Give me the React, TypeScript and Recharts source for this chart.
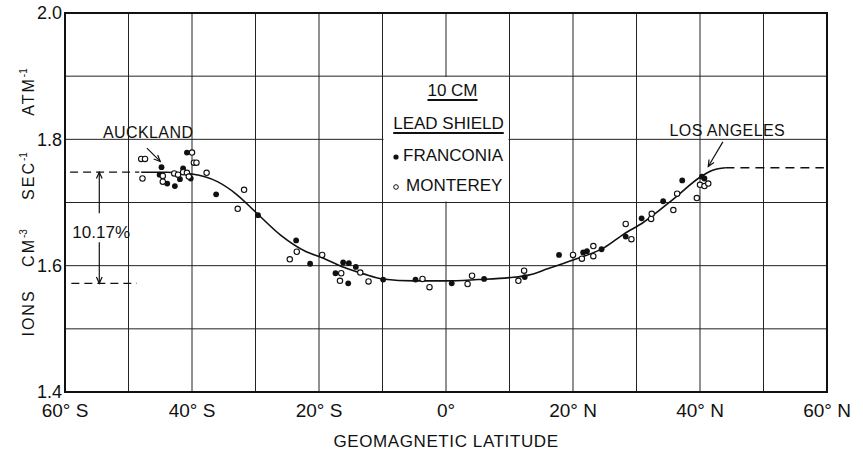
import React from "react";
import {
  ComposedChart,
  Line,
  Scatter,
  XAxis,
  YAxis,
  CartesianGrid,
  ReferenceArea,
  ReferenceLine,
  ReferenceDot,
  Legend,
} from "recharts";

const FONT = '"Liberation Sans", Arial, sans-serif';
const INK = "#111";

// axis ticks (degrees geomagnetic latitude, ions cm-3 sec-1 atm-1)
const latTicks = [-60, -50, -40, -30, -20, -10, 0, 10, 20, 30, 40, 50, 60];
const latLabels: Record<string, string> = {
  "-60": "60° S",
  "-40": "40° S",
  "-20": "20° S",
  "0": "0°",
  "20": "20° N",
  "40": "40° N",
  "60": "60° N",
};
const ionTicks = [1.4, 1.5, 1.6, 1.7, 1.8, 1.9, 2.0];
const ionLabels = ["1.4", "", "1.6", "", "1.8", "", "2.0"];

// measured points [latitude, ionization]
const franconiaRows = [
  [-45.1, 1.744], [-44.8, 1.756], [-43.9, 1.73], [-42.7, 1.726], [-41.9, 1.737],
  [-41.4, 1.754], [-40.8, 1.779], [-40.2, 1.738], [-36.2, 1.713], [-29.6, 1.68],
  [-23.6, 1.64], [-21.4, 1.603], [-17.4, 1.588], [-16.2, 1.605], [-15.3, 1.604],
  [-15.4, 1.572], [-14.2, 1.598], [-9.9, 1.578], [-4.8, 1.578], [0.9, 1.572],
  [6.0, 1.579], [12.4, 1.582], [17.8, 1.617], [21.6, 1.621], [22.2, 1.623],
  [24.5, 1.626], [28.3, 1.646], [30.8, 1.675], [34.2, 1.702], [37.2, 1.735],
  [40.3, 1.741], [40.7, 1.738],
];
const montereyRows = [
  [-48.0, 1.769], [-47.4, 1.769], [-47.8, 1.738], [-44.6, 1.742], [-44.6, 1.733],
  [-42.8, 1.746], [-42.2, 1.744], [-41.4, 1.748], [-40.8, 1.747], [-40.5, 1.741],
  [-40.0, 1.779], [-39.7, 1.763], [-39.3, 1.763], [-37.7, 1.747], [-32.8, 1.69],
  [-31.8, 1.72], [-24.6, 1.61], [-23.5, 1.622], [-19.5, 1.617], [-16.5, 1.588],
  [-16.7, 1.576], [-13.5, 1.589], [-12.2, 1.575], [-3.7, 1.579], [-2.6, 1.566],
  [3.4, 1.571], [4.1, 1.584], [11.4, 1.576], [12.3, 1.592], [20.0, 1.617],
  [21.4, 1.611], [23.2, 1.631], [23.2, 1.615], [28.3, 1.666], [29.2, 1.642],
  [32.3, 1.674], [32.4, 1.682], [35.8, 1.688], [36.4, 1.714], [39.5, 1.707],
  [40.0, 1.728], [40.7, 1.726], [41.3, 1.73],
];

// smooth curve drawn through the data
const curveRows = [
  [-48, 1.748], [-44, 1.748], [-40, 1.745], [-36, 1.733], [-33, 1.713],
  [-30, 1.685], [-26, 1.648], [-22, 1.622], [-19.6, 1.613], [-16, 1.597],
  [-13, 1.587], [-10, 1.579], [-5, 1.576], [0, 1.576], [5, 1.578],
  [10, 1.581], [13, 1.585], [16, 1.595], [20, 1.609], [25, 1.629],
  [28, 1.65], [31, 1.668], [36, 1.707], [40, 1.74], [42, 1.751], [44, 1.755],
];
const plateauRows = [
  [44, 1.755],
  [59.5, 1.755],
];

// latitude effect marker
const southLevel = 1.748;
const equatorLevel = 1.572;
const effectLat = -54.6;
const effectText = "10.17%";

const stations = ["FRANCONIA", "MONTEREY"];
const legendTitle = ["10 CM", "LEAD SHIELD"];

const placeNames = [
  { text: "AUCKLAND", lat: -46.9, v: 1.802 },
  { text: "LOS ANGELES", lat: 44.3, v: 1.805 },
];
const placeArrows = [
  { from: { x: -47.1, y: 1.786 }, to: { x: -45.0, y: 1.765 } },
  { from: { x: 43.6, y: 1.796 }, to: { x: 41.3, y: 1.757 } },
];

const toPoints = (rows: number[][]) => rows.map(([lat, v]) => ({ lat, v }));
const franconia = toPoints(franconiaRows);
const monterey = toPoints(montereyRows);
const curve = toPoints(curveRows);
const plateau = toPoints(plateauRows);

const arrowShape = (props: any) => {
  const { x1, y1, x2, y2 } = props;
  const a = Math.atan2(y2 - y1, x2 - x1);
  const h = 7;
  const s = 0.42;
  const ax = x2 - h * Math.cos(a - s);
  const ay = y2 - h * Math.sin(a - s);
  const bx = x2 - h * Math.cos(a + s);
  const by = y2 - h * Math.sin(a + s);
  return (
    <g>
      <line x1={x1} y1={y1} x2={x2} y2={y2} stroke={INK} strokeWidth={1.2} />
      <path
        d={`M${ax},${ay}L${x2},${y2}L${bx},${by}`}
        fill="none"
        stroke={INK}
        strokeWidth={1.2}
      />
    </g>
  );
};

const textAt = (text: string, size: number, spacing = 0.5) => (props: any) => {
  const { x, y } = props.viewBox;
  return (
    <text
      x={x}
      y={y}
      textAnchor="middle"
      fontFamily={FONT}
      fontSize={size}
      letterSpacing={spacing}
      fill={INK}
    >
      {text}
    </text>
  );
};

const filledDot = (props: any) => (
  <circle cx={props.cx} cy={props.cy} r={2.9} fill={INK} />
);
const openDot = (props: any) => (
  <circle cx={props.cx} cy={props.cy} r={2.7} fill="#fff" stroke={INK} strokeWidth={1.1} />
);

const renderYLabel = () => {
  const word = (cx: number, main: string, sup?: string) => (
    <text
      key={main}
      transform={`translate(34, ${cx}) rotate(-90)`}
      textAnchor="middle"
      fontFamily={FONT}
      fontSize={16}
      letterSpacing={2}
      fill={INK}
    >
      {main}
      {sup && (
        <tspan fontSize={10} letterSpacing={0} dy={-7}>
          {sup}
        </tspan>
      )}
    </text>
  );
  return (
    <g>
      {word(313, "IONS")}
      {word(248, "CM", "-3")}
      {word(176, "SEC", "-1")}
      {word(92, "ATM", "-1")}
    </g>
  );
};

const renderLegend = (props: any) => {
  const items = (props.payload ?? []).filter((p: any) => stations.includes(p.value));
  const tops = [5, 38, 70, 100];
  return (
    <div
      style={{
        position: "relative",
        width: 127,
        height: 126,
        fontFamily: FONT,
        fontSize: 17,
        lineHeight: "20px",
        color: INK,
      }}
    >
      {legendTitle.map((t, i) => (
        <div
          key={t}
          style={{
            position: "absolute",
            top: tops[i],
            left: i === 0 ? 4 : 0,
            width: 127,
            textAlign: "center",
            textDecoration: "underline",
            textDecorationThickness: 1.5,
            textUnderlineOffset: 3,
            whiteSpace: "nowrap",
          }}
        >
          {t}
        </div>
      ))}
      {items.map((p: any, i: number) => (
        <div
          key={p.value}
          style={{
            position: "absolute",
            top: tops[i + 2],
            left: 6,
            display: "flex",
            alignItems: "center",
            whiteSpace: "nowrap",
          }}
        >
          <svg width={12} height={20}>
            {p.value === stations[0] ? (
              <circle cx={5} cy={11} r={2.6} fill={INK} />
            ) : (
              <circle cx={5} cy={11} r={2.3} fill="#fff" stroke={INK} strokeWidth={1} />
            )}
          </svg>
          <span style={{ marginLeft: p.value === stations[0] ? 0 : 3 }}>{p.value}</span>
        </div>
      ))}
    </div>
  );
};

export default function App() {
  return (
    <div
      style={{
        position: "absolute",
        left: 0,
        top: 0,
        width: 863,
        height: 457,
        background: "#fff",
      }}
    >
      <ComposedChart
        width={863}
        height={457}
        margin={{ top: 13, right: 36, left: 0, bottom: 0 }}
      >
        <CartesianGrid stroke="#222" strokeWidth={1} />
        <XAxis
          type="number"
          dataKey="lat"
          domain={[-60, 60]}
          ticks={latTicks}
          interval={0}
          allowDataOverflow
          height={65}
          tickLine={false}
          axisLine={false}
          tickSize={0}
          tickMargin={12}
          tick={{ fontSize: 19, fill: INK, fontFamily: FONT }}
          tickFormatter={(v: number) => latLabels[String(v)] ?? ""}
          label={{
            value: "GEOMAGNETIC LATITUDE",
            position: "insideBottom",
            offset: 10,
            fontSize: 17,
            letterSpacing: 0.6,
            fill: INK,
            fontFamily: FONT,
          }}
        />
        <YAxis
          type="number"
          domain={[1.4, 2.0]}
          ticks={ionTicks}
          interval={0}
          allowDataOverflow
          width={65}
          tickLine={false}
          axisLine={false}
          tickSize={0}
          tickMargin={3}
          tick={{ fontSize: 18, fill: INK, fontFamily: FONT }}
          tickFormatter={(v: number) => ionLabels[ionTicks.findIndex((t) => Math.abs(t - v) < 1e-6)] ?? ""}
          label={renderYLabel}
        />
        <ReferenceArea
          x1={-9.85}
          x2={9.85}
          y1={1.7015}
          y2={1.8985}
          fill="#fff"
          fillOpacity={1}
          stroke="none"
        />
        <ReferenceArea
          x1={-60}
          x2={60}
          y1={1.4}
          y2={2.0}
          fill="none"
          stroke={INK}
          strokeWidth={2}
        />
        <ReferenceLine
          segment={[{ x: -59.2, y: southLevel }, { x: -48.3, y: southLevel }]}
          stroke={INK}
          strokeWidth={1.3}
          strokeDasharray="8 5"
        />
        <ReferenceLine
          segment={[{ x: -59.0, y: equatorLevel }, { x: -48.7, y: equatorLevel }]}
          stroke={INK}
          strokeWidth={1.3}
          strokeDasharray="8 5"
        />
        <ReferenceLine
          segment={[{ x: effectLat, y: 1.683 }, { x: effectLat, y: southLevel }]}
          shape={arrowShape}
        />
        <ReferenceLine
          segment={[{ x: effectLat, y: 1.637 }, { x: effectLat, y: equatorLevel }]}
          shape={arrowShape}
        />
        <ReferenceDot
          x={effectLat + 0.3}
          y={1.6445}
          r={0}
          fill="none"
          stroke="none"
          label={textAt(effectText, 17, 0)}
        />
        {placeArrows.map((a, i) => (
          <ReferenceLine key={`pa-${i}`} segment={[a.from, a.to]} shape={arrowShape} />
        ))}
        {placeNames.map((p) => (
          <ReferenceDot
            key={p.text}
            x={p.lat}
            y={p.v}
            r={0}
            fill="none"
            stroke="none"
            label={textAt(p.text, 16, 0.4)}
          />
        ))}
        <Line
          data={curve}
          dataKey="v"
          type="monotone"
          stroke={INK}
          strokeWidth={1.6}
          dot={false}
          legendType="none"
          isAnimationActive={false}
        />
        <Line
          data={plateau}
          dataKey="v"
          type="linear"
          stroke={INK}
          strokeWidth={1.5}
          strokeDasharray="9 6"
          dot={false}
          legendType="none"
          isAnimationActive={false}
        />
        <Scatter
          name={stations[0]}
          data={franconia}
          dataKey="v"
          shape={filledDot}
          isAnimationActive={false}
        />
        <Scatter
          name={stations[1]}
          data={monterey}
          dataKey="v"
          shape={openDot}
          isAnimationActive={false}
        />
        <Legend
          layout="horizontal"
          verticalAlign="middle"
          align="center"
          content={renderLegend}
          wrapperStyle={{ left: 385, top: 76, width: 127, height: 126 }}
        />
      </ComposedChart>
    </div>
  );
}
